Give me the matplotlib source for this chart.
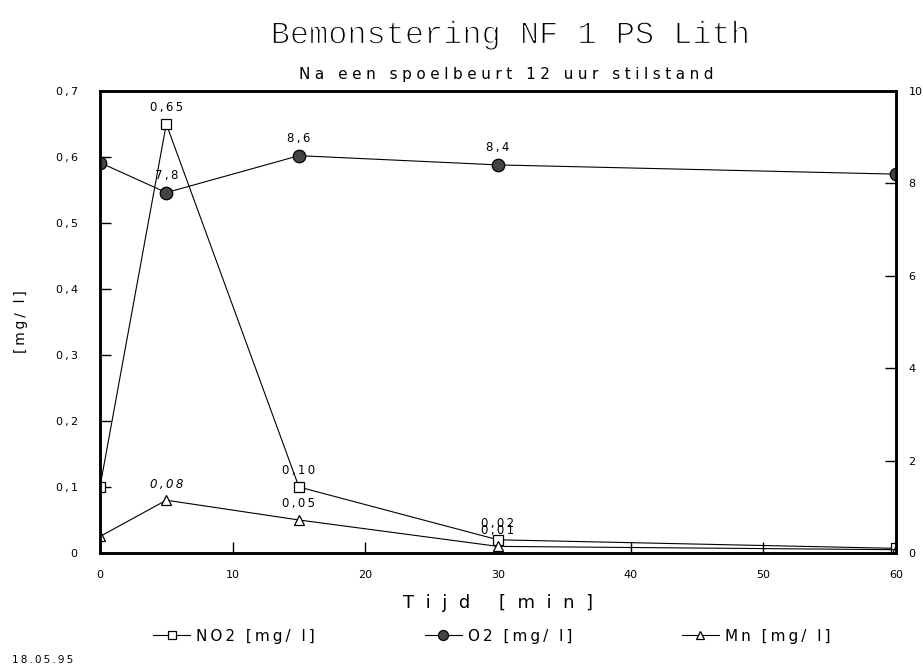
import matplotlib
matplotlib.use("Agg")
import matplotlib.pyplot as plt
import matplotlib.patheffects as pe

tijd = [0, 5, 15, 30, 60]
no2 = [0.10, 0.65, 0.10, 0.02, 0.007]
o2 = [8.45, 7.8, 8.6, 8.4, 8.2]
mn = [0.025, 0.08, 0.05, 0.01, 0.005]

no2_labels = {1: "0,65", 2: "0,10", 3: "0,02"}
o2_labels = {1: "7,8", 2: "8,6", 3: "8,4"}
mn_labels = {1: "0,08", 2: "0,05", 3: "0,01"}
series_names = ["NO2 [mg/ l]", "O2 [mg/ l]", "Mn [mg/ l]"]


def spaced(s, sep="\u2009"):
    # plotter-style letter spacing
    return sep.join(s)


plt.rcParams['font.family'] = 'DejaVu Sans'
fig = plt.figure(figsize=(9.23, 6.69), dpi=100)
ax = fig.add_axes([0.1083, 0.1734, 0.8624, 0.6906])
ax2 = ax.twinx()

lw = 0.8
l1, = ax.plot(tijd, no2, color='black', lw=lw, marker='s', ms=7, mfc='white',
              mec='black', mew=0.9)
l3, = ax.plot(tijd, mn, color='black', lw=lw, marker='^', ms=7, mfc='white',
              mec='black', mew=0.9)
l2, = ax2.plot(tijd, o2, color='black', lw=lw, marker='o', ms=9, mfc='#444444',
               mec='black', mew=0.9)

fs = 8.5
for i, t in no2_labels.items():
    ax.annotate(spaced(t), (tijd[i], no2[i]), xytext=(0, 9),
                textcoords='offset points', ha='center', fontsize=fs)
for i, t in mn_labels.items():
    ax.annotate(spaced(t), (tijd[i], mn[i]), xytext=(0, 9),
                textcoords='offset points', ha='center', fontsize=fs,
                style='italic' if i == 1 else 'normal')
for i, t in o2_labels.items():
    ax2.annotate(spaced(t), (tijd[i], o2[i]), xytext=(0, 10),
                 textcoords='offset points', ha='center', fontsize=fs)

ax.set_xlim(0, 60)
ax.set_ylim(0, 0.7)
ax2.set_ylim(0, 10)
ax.set_xticks(range(0, 61, 10))
ax.set_yticks([i / 10 for i in range(8)])
ax.set_yticklabels(["0"] + [spaced("0,%d" % i) for i in range(1, 8)])
ax2.set_yticks([0, 2, 4, 6, 8, 10])

for a in (ax, ax2):
    for s in a.spines.values():
        s.set_linewidth(1.8)
    a.tick_params(direction='in', length=8, width=1, labelsize=8)
ax.tick_params(axis='y', pad=16)
ax.tick_params(axis='x', pad=12)
ax2.tick_params(axis='y', pad=9)

ax.set_xlabel(spaced("Tijd [min]", "  "), fontsize=13, labelpad=10)
ax.set_ylabel(spaced("[mg/ l]"), fontsize=10, labelpad=20)

fig.text(0.554, 0.947, "Bemonstering NF 1 PS Lith", ha='center', va='center',
         fontsize=23, family='Liberation Mono',
         path_effects=[pe.Normal(),
                       pe.Stroke(linewidth=0.9, foreground='white')])
fig.text(0.549, 0.889, spaced("Na een spoelbeurt 12 uur stilstand",
                              "\u2009\u200a"),
         ha='center', va='center', fontsize=11)
fig.text(0.013, 0.013, spaced("18.05.95"), ha='left', va='center', fontsize=7.5)

fig.legend([l1, l2, l3], [spaced(n) for n in series_names], ncol=3,
           loc='center', bbox_to_anchor=(0.533, 0.049), frameon=False,
           fontsize=11, handlelength=2.4, columnspacing=7.2,
           handletextpad=0.4, markerscale=0.8)

fig.savefig("out.png", dpi=100)
